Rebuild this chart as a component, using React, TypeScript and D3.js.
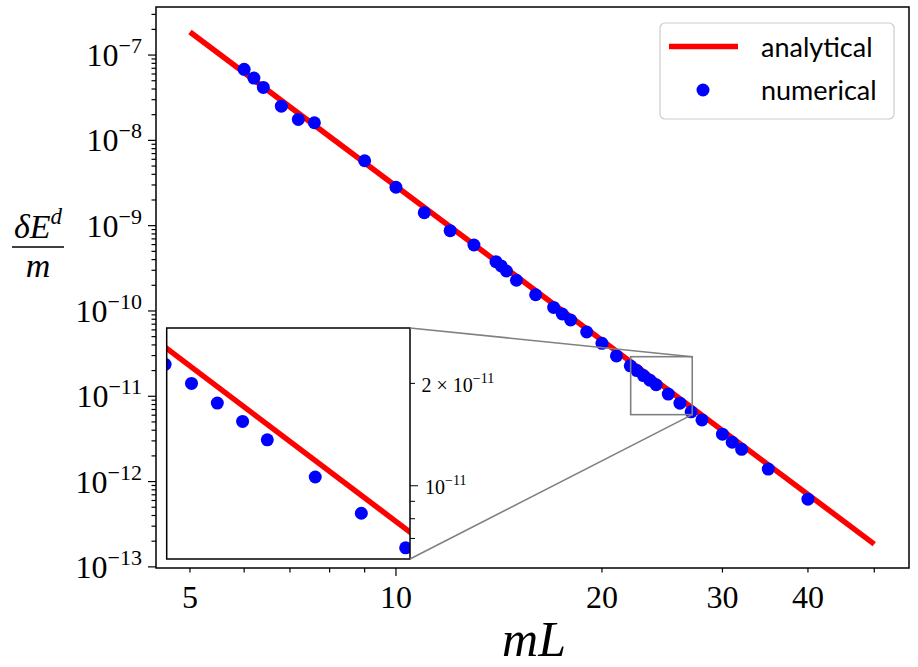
import React from 'react';
import * as d3 from 'd3';

// analytical curve, given by its end points (straight on log-log axes)
const analyticalL = [5, 50];
const analyticalE = [1.86e-7, 1.85e-13];

// numerical results
const numericalL = [6, 6.2, 6.4, 6.8, 7.2, 7.6, 9, 10, 11, 12, 13, 14, 14.25, 14.5, 15, 16, 17, 17.5, 18, 19, 20, 21,
  22, 22.5, 23, 23.5, 24, 25, 26, 27, 28, 30, 31, 32, 35, 40];
const numericalE = [6.8e-8, 5.38e-8, 4.18e-8, 2.52e-8, 1.76e-8, 1.61e-8, 5.77e-9, 2.82e-9, 1.42e-9, 8.73e-10, 5.93e-10,
  3.78e-10, 3.37e-10, 2.94e-10, 2.29e-10, 1.55e-10, 1.1e-10, 9.22e-11, 7.84e-11, 5.67e-11, 4.18e-11, 2.97e-11,
  2.275e-11, 2.0e-11, 1.75e-11, 1.546e-11, 1.365e-11, 1.061e-11, 8.3e-12, 6.57e-12, 5.28e-12, 3.59e-12, 2.89e-12,
  2.39e-12, 1.4e-12, 6.21e-13];

// axis ticks
const xMajorTicks = [10];
const xMinorTicks = [5, 6, 7, 8, 9, 20, 30, 40, 50];
const xTickLabels = [5, 10, 20, 30, 40];
const yMajorExp = [-13, -12, -11, -10, -9, -8, -7];

// zoomed region
const insetLRange = [22.03, 27.1];
const insetERange = [6.09e-12, 2.91e-11];
const insetMinorTicks = [7e-12, 8e-12, 9e-12, 2e-11];
const insetMajorTicks = [1e-11];

const SERIF = "'Liberation Serif', 'DejaVu Serif', serif";
const SANS = "Lato, 'DejaVu Sans', sans-serif";

function Chart() {
  const W = 918;
  const H = 667;
  const frame = { left: 156, right: 909, top: 7, bottom: 568 };
  const inset = { left: 166.7, right: 410, top: 328, bottom: 559 };

  const x = d3.scaleLog().domain([4.46, 56.2]).range([frame.left, frame.right]);
  const y = d3.scaleLog().domain([9.7e-14, 3.66e-7]).range([frame.bottom, frame.top]);

  const xi = d3.scaleLog().domain(insetLRange).range([inset.left, inset.right]);
  const yi = d3.scaleLog().domain(insetERange).range([inset.bottom, inset.top]);

  const analytical = analyticalL.map((l, i) => [l, analyticalE[i]]);
  const numerical = numericalL.map((l, i) => [l, numericalE[i]]);

  const lineMain = d3.line<number[]>().x(d => x(d[0])).y(d => y(d[1]));
  const lineInset = d3.line<number[]>().x(d => xi(d[0])).y(d => yi(d[1]));

  // minor y ticks: 2..9 x 10^n inside the frame
  const yMinor: number[] = [];
  for (let e = -14; e <= -7; e++) {
    for (let k = 2; k <= 9; k++) {
      const v = k * Math.pow(10, e);
      if (v > y.domain()[0] && v < y.domain()[1]) yMinor.push(v);
    }
  }

  // indicator box in main axes
  const box = {
    x0: x(insetLRange[0]), x1: x(insetLRange[1]),
    y0: y(insetERange[1]), y1: y(insetERange[0]),
  };

  const R = 6.5;

  return (
    <svg width={W} height={H} style={{ position: 'absolute', left: 0, top: 0, background: '#fff' }}>
      <defs>
        <clipPath id="clip-main">
          <rect x={frame.left} y={frame.top} width={frame.right - frame.left} height={frame.bottom - frame.top} />
        </clipPath>
        <clipPath id="clip-inset">
          <rect x={inset.left} y={inset.top} width={inset.right - inset.left} height={inset.bottom - inset.top} />
        </clipPath>
      </defs>

      {/* main data */}
      <g clipPath="url(#clip-main)">
        <path d={lineMain(analytical) || ''} fill="none" stroke="#ff0000" strokeWidth={5.5} />
        {numerical.map((d, i) => (
          <circle key={'n' + i} cx={x(d[0])} cy={y(d[1])} r={R} fill="#0000ff" />
        ))}
      </g>

      {/* main frame */}
      <rect x={frame.left} y={frame.top} width={frame.right - frame.left} height={frame.bottom - frame.top}
        fill="none" stroke="#000" strokeWidth={1.5} />

      {/* x ticks */}
      <g stroke="#000" strokeWidth={1.2}>
        {xMajorTicks.map(t => <line key={'xM' + t} x1={x(t)} x2={x(t)} y1={frame.bottom} y2={frame.bottom + 8} />)}
        {xMinorTicks.map(t => <line key={'xm' + t} x1={x(t)} x2={x(t)} y1={frame.bottom} y2={frame.bottom + 4.5} />)}
      </g>
      <g fontFamily={SERIF} fontSize={32} textAnchor="middle" fill="#000">
        {xTickLabels.map(t => <text key={'xl' + t} x={x(t)} y={608}>{t}</text>)}
      </g>
      <text x={534} y={656} fontFamily={SERIF} fontStyle="italic" fontSize={50} textAnchor="middle">mL</text>

      {/* y ticks */}
      <g stroke="#000" strokeWidth={1.2}>
        {yMajorExp.map(e => <line key={'yM' + e} x1={frame.left - 8} x2={frame.left} y1={y(Math.pow(10, e))} y2={y(Math.pow(10, e))} />)}
        {yMinor.map((v, i) => <line key={'ym' + i} x1={frame.left - 4.5} x2={frame.left} y1={y(v)} y2={y(v)} />)}
      </g>
      <g fontFamily={SERIF} fill="#000">
        {yMajorExp.map(e => (
          <text key={'yl' + e} x={142} y={y(Math.pow(10, e)) + 11} textAnchor="end" fontSize={32}>
            10<tspan dy={-13} fontSize={22}>{'\u2212' + Math.abs(e)}</tspan>
          </text>
        ))}
      </g>

      {/* y label as a fraction */}
      <g fontFamily={SERIF} fill="#000">
        <text x={38} y={238} fontSize={34} textAnchor="middle" fontStyle="italic">
          {'\u03b4E'}<tspan dy={-14} fontSize={23}>d</tspan>
        </text>
        <line x1={12} x2={64} y1={247} y2={247} stroke="#000" strokeWidth={1.5} />
        <text x={38} y={277} fontSize={34} textAnchor="middle" fontStyle="italic">m</text>
      </g>

      {/* legend */}
      <g>
        <rect x={660} y={23} width={234} height={96} rx={5} fill="#fff" fillOpacity={0.8} stroke="#cccccc" strokeWidth={1.2} />
        <line x1={669} x2={738} y1={46.5} y2={46.5} stroke="#ff0000" strokeWidth={5.5} />
        <circle cx={703} cy={90} r={R} fill="#0000ff" />
        <text x={761} y={57} fontFamily={SANS} fontSize={27} fill="#000">analytical</text>
        <text x={761} y={100} fontFamily={SANS} fontSize={27} fill="#000">numerical</text>
      </g>

      {/* inset */}
      <rect x={inset.left} y={inset.top} width={inset.right - inset.left} height={inset.bottom - inset.top}
        fill="#fff" stroke="none" />
      <g clipPath="url(#clip-inset)">
        <path d={lineInset(analytical) || ''} fill="none" stroke="#ff0000" strokeWidth={5.5} />
        {numerical.map((d, i) => (
          <circle key={'i' + i} cx={xi(d[0])} cy={yi(d[1])} r={R} fill="#0000ff" />
        ))}
      </g>
      <rect x={inset.left} y={inset.top} width={inset.right - inset.left} height={inset.bottom - inset.top}
        fill="none" stroke="#000" strokeWidth={1.5} />
      <g stroke="#000" strokeWidth={1}>
        {insetMajorTicks.map(v => <line key={'iM' + v} x1={inset.right} x2={inset.right + 8} y1={yi(v)} y2={yi(v)} />)}
        {insetMinorTicks.map(v => <line key={'im' + v} x1={inset.right} x2={inset.right + 5} y1={yi(v)} y2={yi(v)} />)}
      </g>
      <g fontFamily={SERIF} fill="#000">
        <text x={421.5} y={yi(2e-11) + 8.5} fontSize={20}>
          {'2 \u00d7 10'}<tspan dy={-9} fontSize={14}>{'\u221211'}</tspan>
        </text>
        <text x={425} y={yi(1e-11) + 8.5} fontSize={20}>
          10<tspan dy={-9} fontSize={14}>{'\u221211'}</tspan>
        </text>
      </g>

      {/* zoom indicator and connectors */}
      <g stroke="#808080" strokeWidth={1.6} fill="none">
        <rect x={box.x0} y={box.y0} width={box.x1 - box.x0} height={box.y1 - box.y0} />
        <line x1={inset.right} y1={inset.top} x2={box.x1} y2={box.y0} />
        <line x1={inset.right} y1={inset.bottom} x2={box.x1} y2={box.y1} />
      </g>
    </svg>
  );
}

export default function App() {
  return <Chart />;
}
